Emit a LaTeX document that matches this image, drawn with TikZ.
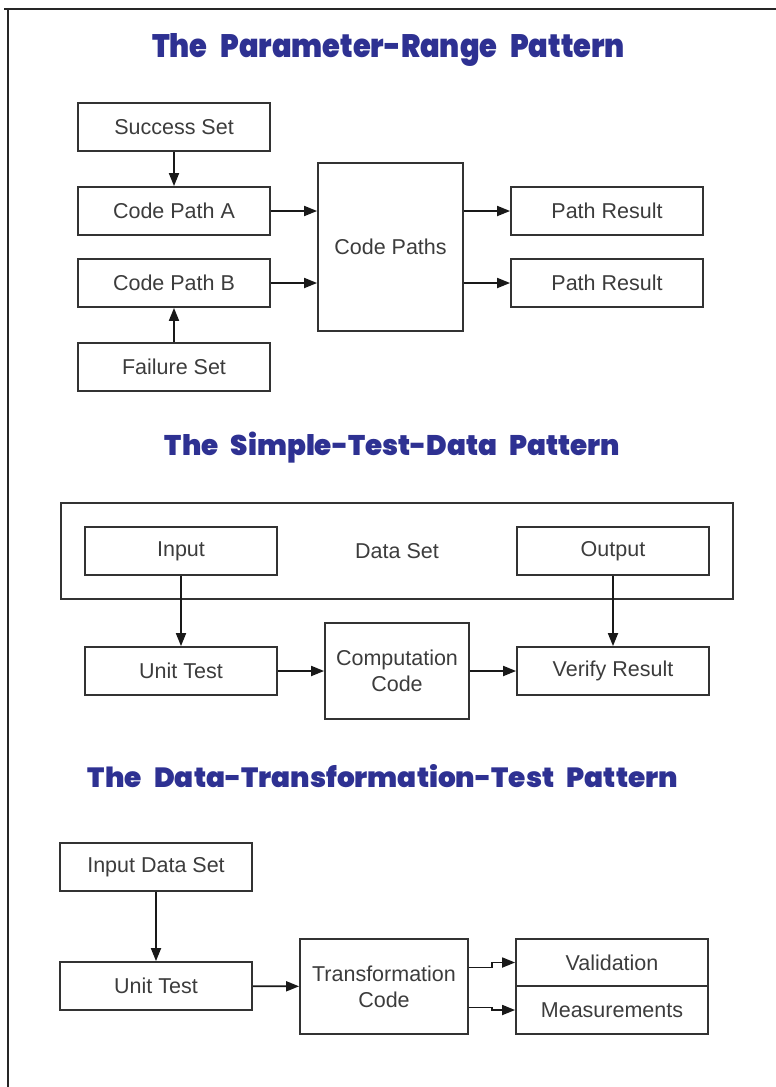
\documentclass[tikz,border=0pt]{standalone}
\usepackage{fontspec}
\setmainfont{Liberation Sans}
\newfontfamily\headfont{Poppins Black}[WordSpace=2.6]
\usetikzlibrary{arrows.meta}
\definecolor{headblue}{HTML}{2E3192}
\definecolor{boxline}{HTML}{333333}
\definecolor{boxtext}{HTML}{3C3C3C}
% heading text stretched to a given width and cap height
\newcommand\headtext[3]{\resizebox{#1}{#2}{\headfont #3}}
\tikzset{
  box/.style={draw=boxline, line width=1.8pt, rectangle, inner sep=0pt,
    minimum width=192pt, minimum height=48pt, text=boxtext,
    font=\fontsize{21.5}{26}\selectfont, align=center},
  conn/.style={draw=black!90, line width=1.8pt,
    -{Triangle[length=13pt,width=10pt]}},
  heading/.style={text=headblue, inner sep=0pt, anchor=base},
  frameline/.style={draw=black!85, line width=2.6pt}
}
\begin{document}
\begin{tikzpicture}[x=1pt,y=-1pt]
  \useasboundingbox (0,0) rectangle (776,1087);
  % page frame (top and left edges only)
  \draw[frameline] (4,9) -- (776,9);
  \draw[frameline] (8,9) -- (8,1087);

  % ---------- Parameter-Range ----------
  \node[heading] (t1) at (388.5,57) {\headtext{473pt}{24pt}{The Parameter-Range Pattern}};
  \node[box] (succ) at (174,127) {Success Set};
  \node[box] (cpa) at (174,211) {Code Path A};
  \node[box] (cpb) at (174,283) {Code Path B};
  \node[box] (fail) at (174,367) {Failure Set};
  \node[box, minimum width=145pt, minimum height=168pt] (paths) at (390.5,247) {Code Paths};
  \node[box] (res1) at (607,211) {Path Result};
  \node[box] (res2) at (607,283) {Path Result};
  \draw[conn] (succ) -- (cpa);
  \draw[conn] (fail) -- (cpb);
  \draw[conn] (cpa) -- (cpa -| paths.west);
  \draw[conn] (cpb) -- (cpb -| paths.west);
  \draw[conn] (res1 -| paths.east) -- (res1);
  \draw[conn] (res2 -| paths.east) -- (res2);

  % ---------- Simple-Test-Data ----------
  \node[heading] (t2) at (392.5,455) {\headtext{455pt}{23.5pt}{The Simple-Test-Data Pattern}};
  \node[box, minimum width=672pt, minimum height=96pt] (dset) at (397,551) {Data Set};
  \node[box] (inp) at (181,551) {Input};
  \node[box] (outp) at (613,551) {Output};
  \node[box] (ut1) at (181,671) {Unit Test};
  \node[box, minimum width=144pt, minimum height=96pt] (comp) at (397,671) {Computation\\Code};
  \node[box] (ver) at (613,671) {Verify Result};
  \draw[conn] (inp) -- (ut1);
  \draw[conn] (outp) -- (ver);
  \draw[conn] (ut1) -- (comp);
  \draw[conn] (comp) -- (ver);

  % ---------- Data-Transformation-Test ----------
  \node[heading] (t3) at (383,787) {\headtext{590pt}{23pt}{The Data-Transformation-Test Pattern}};
  \node[box] (ids) at (156,867) {Input Data Set};
  \node[box] (ut2) at (156,986) {Unit Test};
  \node[box, minimum width=168pt, minimum height=95pt] (trans) at (384,986.5) {Transformation\\Code};
  \node[box, minimum height=47pt] (valid) at (612,962.5) {Validation};
  \node[box, minimum height=48pt] (meas) at (612,1010) {Measurements};
  \draw[conn] (ids) -- (ut2);
  \draw[conn] (ut2) -- (trans);
  \draw[conn] ([yshift=19pt]trans.east) -- ++(23,0) |- (valid.west);
  \draw[conn] ([yshift=-21pt]trans.east) -- ++(23,0) |- (meas.west);
\end{tikzpicture}
\end{document}
